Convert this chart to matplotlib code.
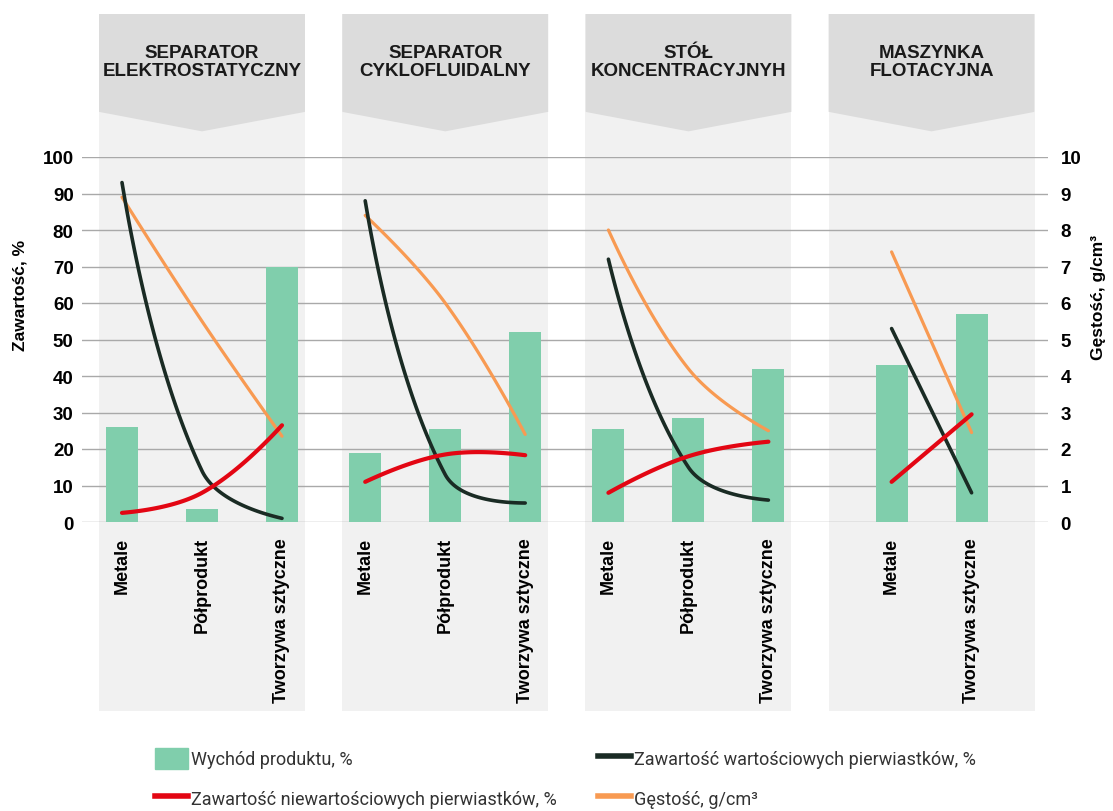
import numpy as np
import matplotlib.pyplot as plt
from matplotlib.patches import Rectangle, Polygon, Patch
from matplotlib.lines import Line2D
from matplotlib.transforms import blended_transform_factory

plt.rcParams['font.family'] = ['Liberation Sans', 'DejaVu Sans']

# separation methods and their products
methods = ["SEPARATOR\nELEKTROSTATYCZNY", "SEPARATOR\nCYKLOFLUIDALNY",
           "STÓŁ\nKONCENTRACYJNYH", "MASZYNKA\nFLOTACYJNA"]
products = [["Metale", "Półprodukt", "Tworzywa sztyczne"],
            ["Metale", "Półprodukt", "Tworzywa sztyczne"],
            ["Metale", "Półprodukt", "Tworzywa sztyczne"],
            ["Metale", "Tworzywa sztyczne"]]

# product yield, %
yield_pct = [[26, 3.5, 70], [19, 25.5, 52], [25.5, 28.5, 42], [43, 57]]
# valuable elements content, %
valuable = [[93, 14, 1], [88, 13, 5.2], [72, 15, 6], [53, 8]]
# non-valuable elements content, %
non_valuable = [[2.5, 8, 26.5], [11, 18.5, 18.3], [8, 18, 22], [11, 29.5]]
# density, g/cm3
density = [[8.9, 5.5, 2.35], [8.4, 6.0, 2.4], [8.0, 4.2, 2.5], [7.4, 2.45]]

GREEN = '#80ceac'
DARK = '#1a2b24'
RED = '#e30613'
ORANGE = '#f89a52'

PANEL_STEP = 3.04
PANEL_W = 2.575
SLOT = 1.0
BAR_W = 0.4


def smooth(trans, xs, ys, tension=0.4, n=60):
    # smoothed line built in screen space: bezier arms scaled by neighbour distances
    pts = trans.transform(np.column_stack([xs, ys]).astype(float))
    if len(pts) < 3:
        return xs, ys
    m = len(pts)
    before = np.zeros_like(pts)
    after = np.zeros_like(pts)
    for i in range(1, m - 1):
        d0 = np.hypot(*(pts[i] - pts[i - 1]))
        d1 = np.hypot(*(pts[i + 1] - pts[i]))
        chord = pts[i + 1] - pts[i - 1]
        before[i] = pts[i] - tension * d0 / (d0 + d1) * chord
        after[i] = pts[i] + tension * d1 / (d0 + d1) * chord
    after[0] = pts[0] + tension * 0.5 * (before[1] - pts[0])
    before[-1] = pts[-1] + tension * 0.5 * (after[-2] - pts[-1])
    t = np.linspace(0, 1, n)[:, None]
    out = []
    for i in range(m - 1):
        p1, c1, c2, p2 = pts[i], after[i], before[i + 1], pts[i + 1]
        seg = ((1 - t) ** 3 * p1 + 3 * (1 - t) ** 2 * t * c1
               + 3 * (1 - t) * t ** 2 * c2 + t ** 3 * p2)
        out.append(seg if i == 0 else seg[1:])
    out = trans.inverted().transform(np.vstack(out))
    return out[:, 0], out[:, 1]


fig = plt.figure(figsize=(11.13, 8.12), dpi=100)
ax = fig.add_axes([82 / 1113, 289 / 812, 966 / 1113, 365 / 812])
ax2 = ax.twinx()
ax.set_xlim(-0.2125, 11.8625)
ax.set_ylim(0, 100)
ax2.set_ylim(0, 10)
trans = blended_transform_factory(ax.transData, fig.transFigure)

tick_x, tick_lab = [], []
for i, name in enumerate(methods):
    left = i * PANEL_STEP
    center = left + PANEL_W / 2
    n = len(products[i])
    xs = center + (np.arange(n) - (n - 1) / 2) * SLOT
    tick_x.extend(xs)
    tick_lab.extend(products[i])

    # panel background and header arrow
    ax.add_patch(Rectangle((left, 0.123), PANEL_W, 0.861 - 0.123, transform=trans,
                           facecolor='#f1f1f1', edgecolor='none', zorder=0.1, clip_on=False))
    ax.add_patch(Polygon([(left, 0.9815), (left + PANEL_W, 0.9815), (left + PANEL_W, 0.861),
                          (center, 0.837), (left, 0.861)], closed=True, transform=trans,
                         facecolor='#dcdcdc', edgecolor='none', zorder=0.2, clip_on=False))
    ax.text(center, 0.923, name, transform=trans, ha='center', va='center',
            fontsize=13.5, fontweight='bold', linespacing=1.15, color='#1a1a1a')

    ax.bar(xs, yield_pct[i], width=BAR_W, color=GREEN, zorder=2)

    sx, sy = smooth(ax2.transData, xs, density[i])
    ax2.plot(sx, sy, color=ORANGE, lw=2.3, zorder=3, solid_capstyle='round')
    sx, sy = smooth(ax.transData, xs, valuable[i])
    ax2.plot(sx, sy, color=DARK, lw=2.6, zorder=4, solid_capstyle='round',
             transform=ax.transData)
    sx, sy = smooth(ax.transData, xs, non_valuable[i])
    ax2.plot(sx, sy, color=RED, lw=3.0, zorder=5, solid_capstyle='round',
             transform=ax.transData)

ax.set_xlim(-0.2125, 11.8625)
ax.set_ylim(0, 100)
ax2.set_ylim(0, 10)
ax.set_yticks(range(0, 101, 10))
ax2.set_yticks(range(0, 11))
ax.set_xticks(tick_x)
ax.set_xticklabels(tick_lab, rotation=90, fontsize=13, fontweight='bold')
ax.tick_params(axis='x', length=0, pad=11)
ax.tick_params(axis='y', length=0, pad=6, labelsize=13.5)
ax2.tick_params(axis='y', length=0, pad=9, labelsize=13.5)
for lab in ax.get_yticklabels() + ax2.get_yticklabels():
    lab.set_fontweight('bold')
ax.grid(axis='y', color='#a9a9a9', lw=1)
ax.set_axisbelow(True)
for a in (ax, ax2):
    for s in a.spines.values():
        s.set_visible(False)

fig.text(20 / 1113, 1 - 295 / 812, "Zawartość, %", rotation=90, ha='center', va='center',
         fontsize=12.5, fontweight='bold')
fig.text(1099 / 1113, 1 - 298 / 812, "Gęstość, g/cm³", rotation=90, ha='center', va='center',
         fontsize=12.5, fontweight='bold')

# legend in two columns
leg_font = {'family': ['Liberation Sans Narrow', 'Roboto', 'DejaVu Sans'], 'size': 13}
leg_kw = dict(loc='upper left', frameon=False, prop=leg_font, handlelength=1.8,
              handleheight=1.4, handletextpad=0.2, labelspacing=1.05, borderpad=0,
              labelcolor='#333333')
fig.legend([Patch(color=GREEN), Line2D([], [], color=RED, lw=4)],
           ["Wychód produktu, %", "Zawartość niewartościowych pierwiastków, %"],
           bbox_to_anchor=(146 / 1113, 1 - 740 / 812), **leg_kw)
fig.legend([Line2D([], [], color=DARK, lw=4), Line2D([], [], color=ORANGE, lw=4)],
           ["Zawartość wartościowych pierwiastków, %", "Gęstość, g/cm³"],
           bbox_to_anchor=(589 / 1113, 1 - 740 / 812), **leg_kw)

fig.savefig("out.png", dpi=100)
